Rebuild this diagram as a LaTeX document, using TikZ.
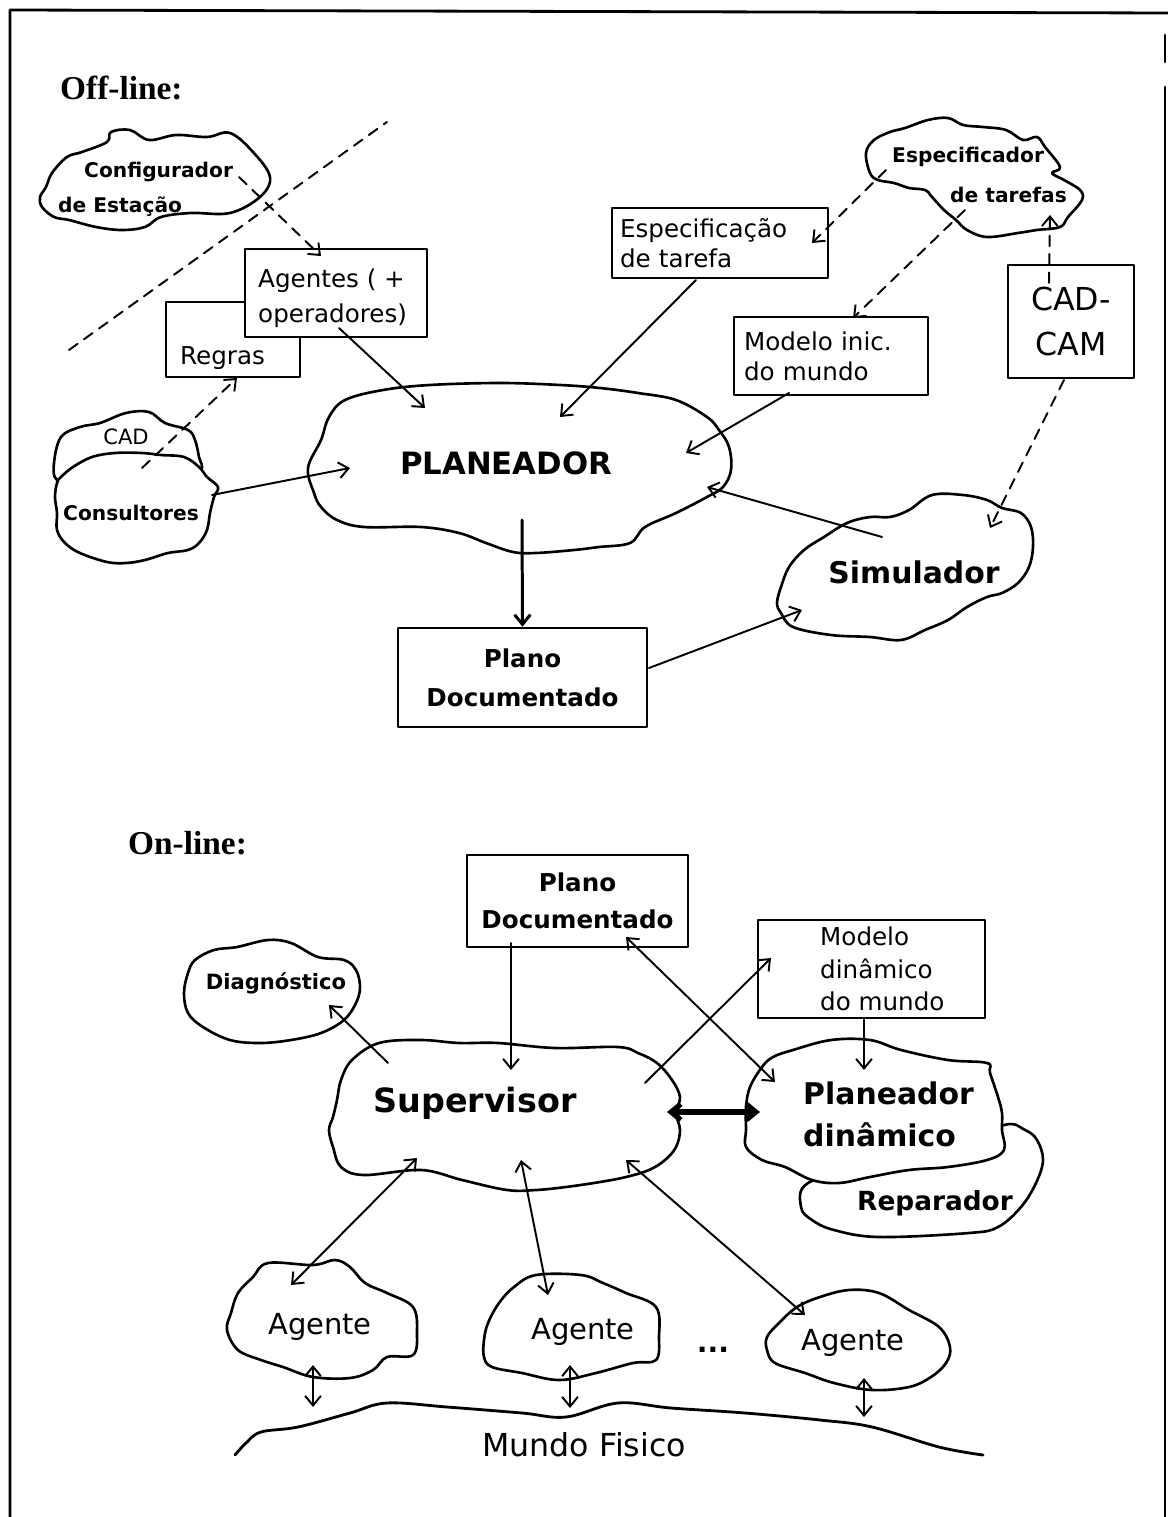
\documentclass[tikz,border=0pt]{standalone}
\usepackage{fontspec}
\usepackage{tikz}
\usetikzlibrary{arrows.meta}
\newfontfamily\dejavu{DejaVu Sans}
\newfontfamily\libserif{Liberation Serif}

\begin{document}
\begin{tikzpicture}[
  x=0.02cm,
  y=-0.02cm,
  line cap=round,
  line join=round,
  every node/.style={font=\dejavu},
  blob/.style={draw,fill=white,line width=1.5pt},
  box/.style={draw,fill=white,line width=1.5pt,inner sep=0pt},
  boxtxt/.style={font=\dejavu\fontsize{14}{17}\selectfont},
  small/.style={font=\dejavu\bfseries\fontsize{11.5}{14}\selectfont},
  big/.style={font=\dejavu\bfseries\fontsize{#1}{24}\selectfont},
  title/.style={font=\libserif\bfseries\fontsize{19}{22}\selectfont,anchor=west},
  arr/.style={line width=1.1pt,-{Straight Barb[length=5.5pt,width=9pt]}},
  darr/.style={arr,dash pattern=on 6pt off 4.5pt},
  both/.style={line width=1.1pt,{Straight Barb[length=5.5pt,width=9pt]}-{Straight Barb[length=5.5pt,width=9pt]}}
  ]
  \useasboundingbox (0,0) rectangle (1168,1517);

  % frame
  \draw[line width=1.6pt] (10,1517) -- (10,10) -- (1168,13);
  \draw[line width=1.6pt] (1165,87) -- (1165,1517);
  \draw[line width=1.6pt] (1165,35) -- (1165,62);

  % off-line
  \node[title] (off) at (54,88) {Off-line:};

  \draw[blob] plot[smooth cycle,tension=0.6] coordinates {(46,187) (52,173) (67,157) (82,152) (107,142) (111,132) (130,130) (149,140) (176,135) (207,137) (230,133) (253,152) (270,177) (260,197) (230,213) (191,213) (161,217) (145,227) (122,230) (96,227) (69,220) (54,217) (42,207) (40,197)};
  \node[small,anchor=west] (cfgA) at (78,172) {Configurador};
  \node[small,anchor=west] (cfgB) at (52,207) {de Estação};

  \draw[blob] plot[smooth cycle,tension=0.6] coordinates {(866,153) (874,140) (890,132) (905,128) (928,120) (948,118) (963,125) (983,127) (1006,130) (1023,140) (1037,137) (1045,147) (1060,167) (1052,173) (1064,180) (1080,190) (1082,200) (1068,217) (1060,227) (1037,230) (1018,233) (987,237) (967,230) (956,220) (944,210) (932,197) (925,190) (909,188) (894,183) (878,180) (870,173)};
  \node[small,anchor=west] (espA) at (886,157) {Especificador};
  \node[small,anchor=west] (espB) at (944,195) {de tarefas};

  \draw[blob] plot[smooth cycle,tension=0.6] coordinates {(57,480) (54,463) (61,437) (80,427) (100,423) (126,413) (149,412) (165,423) (188,430) (195,440) (199,457) (201,470) (180,480) (130,485) (80,485)};
  \node[font=\dejavu\fontsize{12}{14}\selectfont] (cad) at (126,437) {CAD};
  \draw[blob] plot[smooth cycle,tension=0.6] coordinates {(57,483) (55,497) (57,513) (57,530) (65,543) (80,553) (107,562) (126,563) (145,560) (168,553) (188,550) (199,543) (207,530) (210,513) (214,497) (218,487) (207,477) (199,467) (184,457) (161,455) (142,453) (115,453) (92,457) (73,467) (61,477)};
  \node[small] (cons) at (131,513) {Consultores};

  \draw[blob] plot[smooth cycle,tension=0.6] coordinates {(345,400) (383,390) (430,385) (500,383) (560,385) (600,388) (638,393) (676,400) (707,417) (719,430) (729,447) (731,470) (723,487) (707,497) (676,513) (645,527) (630,543) (599,547) (574,550) (536,553) (513,552) (486,543) (459,533) (421,527) (364,527) (337,520) (321,507) (314,493) (308,468) (321,440) (329,417)};
  \node[big=17.5] (plan) at (506,463) {PLANEADOR};

  \draw[blob] plot[smooth cycle,tension=0.6] coordinates {(781,587) (777,603) (781,613) (793,627) (831,635) (870,637) (901,640) (925,630) (948,620) (967,607) (987,597) (1002,593) (1018,583) (1029,567) (1033,547) (1031,527) (1021,513) (1002,508) (987,500) (963,495) (932,495) (909,510) (890,517) (870,517) (847,523) (824,537) (804,550) (789,567)};
  \node[big=17] (sim) at (914,572) {Simulador};

  \node[box,minimum width=2.68cm,minimum height=1.5cm] (regras) at (233,339.5) {};
  \node[boxtxt,anchor=west] (regrasT) at (174,358) {Regras};
  \node[box,minimum width=3.64cm,minimum height=1.76cm] (agentes) at (336,293) {};
  \node[boxtxt,anchor=west,align=left] (agentesT) at (252,298) {Agentes ( +\\[3pt]operadores)};
  \node[box,boxtxt,minimum width=4.32cm,minimum height=1.4cm,inner xsep=0.16cm,text width=4cm,align=left] (espc) at (720,243) {Especificação\\de tarefa};
  \node[box,boxtxt,minimum width=3.88cm,minimum height=1.56cm,inner xsep=0.2cm,text width=3.48cm,align=left] (modelo) at (831,356) {Modelo inic.\\do mundo};
  \node[box,font=\dejavu\fontsize{18}{25.6}\selectfont,minimum width=2.52cm,minimum height=2.26cm,align=center] (cadcam) at (1071,321.5) {CAD-\\CAM};
  \node[box,big=14,minimum width=4.98cm,minimum height=1.98cm,align=center] (plano) at (522.5,677.5) {Plano\\[-2pt]Documentado};

  \coordinate (diagA) at (69,350);
  \coordinate (diagB) at (387,122);
  \draw[line width=1.1pt,dash pattern=on 6pt off 4.5pt] (diagA) -- (diagB);

  \coordinate (cfgOut) at (239,177);
  \coordinate (agIn) at (321,256);
  \coordinate (agOut) at (339,328);
  \coordinate (plIn1) at (425,408);
  \coordinate (consUp) at (142,468);
  \coordinate (regIn) at (237,378);
  \coordinate (consOut) at (212,495);
  \coordinate (plIn2) at (350,468);
  \coordinate (espOut1) at (886,170);
  \coordinate (espcIn) at (812,243);
  \coordinate (espOut2) at (965,210);
  \coordinate (modIn) at (853,318);
  \coordinate (camUp) at (1049,283);
  \coordinate (espIn) at (1050,215);
  \coordinate (espcOut) at (696,280);
  \coordinate (plIn3) at (560,417);
  \coordinate (modOut) at (789,393);
  \coordinate (plIn4) at (686,453);
  \coordinate (camDown) at (1064,380);
  \coordinate (simIn) at (990,528);
  \coordinate (simOut) at (882,537);
  \coordinate (plIn5) at (707,487);
  \coordinate (plOut) at (522,520);
  \coordinate (planoOut) at (649,668);
  \coordinate (simIn2) at (802,610);

  \draw[darr] (cfgOut) -- (agIn);
  \draw[arr] (agOut) -- (plIn1);
  \draw[darr] (consUp) -- (regIn);
  \draw[arr] (consOut) -- (plIn2);
  \draw[darr] (espOut1) -- (espcIn);
  \draw[darr] (espOut2) -- (modIn);
  \draw[darr] (camUp) -- (espIn);
  \draw[arr] (espcOut) -- (plIn3);
  \draw[arr] (modOut) -- (plIn4);
  \draw[darr] (camDown) -- (simIn);
  \draw[arr] (simOut) -- (plIn5);
  \draw[arr,line width=1.7pt] (plOut) -- (plano.north);
  \draw[arr] (planoOut) -- (simIn2);

  % on-line
  \node[title] (on) at (122,843) {On-line:};

  \draw[blob] plot[smooth cycle,tension=0.6] coordinates {(184,993) (188,1013) (203,1027) (230,1040) (260,1043) (291,1040) (321,1033) (344,1020) (356,1003) (360,987) (356,970) (344,960) (318,957) (291,943) (268,940) (237,947) (214,950) (195,960) (188,973)};
  \node[font=\dejavu\bfseries\fontsize{12}{14}\selectfont] (diag) at (276,983) {Diagnóstico};

  \draw[blob] plot[smooth cycle,tension=0.6] coordinates {(379,1043) (421,1040) (459,1043) (498,1043) (555,1048) (618,1047) (638,1053) (657,1063) (672,1080) (680,1097) (676,1113) (680,1130) (676,1147) (665,1160) (649,1170) (626,1177) (600,1182) (566,1187) (536,1190) (507,1190) (462,1180) (421,1170) (364,1175) (341,1167) (333,1147) (329,1130) (333,1117) (337,1100) (341,1080) (352,1060)};
  \node[big=19] (sup) at (475,1103) {Supervisor};

  \draw[blob] plot[smooth cycle,tension=0.6] coordinates {(808,1183) (801,1207) (812,1220) (834,1230) (879,1237) (969,1233) (998,1227) (1021,1207) (1036,1183) (1043,1160) (1037,1140) (1025,1130) (1004,1125) (950,1150) (870,1165)};
  \node[big=15] (rep) at (935,1203) {Reparador};
  \draw[blob] plot[smooth cycle,tension=0.6] coordinates {(762,1067) (750,1087) (746,1107) (746,1130) (746,1147) (762,1160) (785,1167) (812,1180) (839,1183) (870,1177) (909,1170) (948,1167) (987,1160) (1004,1150) (1002,1130) (1002,1113) (998,1097) (990,1073) (987,1063) (948,1060) (901,1050) (870,1040) (831,1040) (793,1050) (773,1057)};
  \node[big=17,anchor=west,align=left] (pdin) at (797,1114) {Planeador\\dinâmico};

  \node[box,big=14,minimum width=4.42cm,minimum height=1.84cm,align=center] (plano2) at (577.5,901) {Plano\\[-3pt]Documentado};
  \node[box,minimum width=4.54cm,minimum height=1.96cm] (mdin) at (871.5,969) {};
  \node[font=\dejavu\fontsize{14}{18.5}\selectfont,anchor=west,align=left] (mdinT) at (814,969) {Modelo\\dinâmico\\do mundo};

  \draw[blob] plot[smooth cycle,tension=0.6] coordinates {(227,1330) (238,1350) (261,1360) (283,1367) (313,1377) (350,1378) (373,1370) (387,1357) (413,1355) (417,1333) (413,1307) (387,1293) (365,1283) (350,1267) (335,1260) (313,1265) (268,1263) (253,1277) (238,1293) (231,1313)};
  \draw[blob] plot[smooth cycle,tension=0.6] coordinates {(484,1357) (492,1367) (522,1373) (559,1380) (596,1373) (633,1363) (656,1360) (659,1337) (656,1307) (626,1293) (603,1283) (581,1275) (536,1275) (514,1287) (499,1303) (488,1323) (484,1340)};
  \draw[blob] plot[smooth cycle,tension=0.6] coordinates {(767,1350) (775,1363) (805,1373) (834,1383) (872,1390) (909,1387) (931,1377) (946,1363) (950,1347) (939,1327) (909,1310) (879,1293) (849,1290) (820,1297) (797,1307) (779,1323) (767,1337)};
  \node[font=\dejavu\fontsize{16.5}{20}\selectfont] (agente1) at (320,1327) {Agente};
  \node[font=\dejavu\fontsize{16.5}{20}\selectfont] (agente2) at (583,1332) {Agente};
  \node[font=\dejavu\fontsize{16.5}{20}\selectfont] (agente3) at (853,1343) {Agente};
  \node[big=16] (dots) at (713,1350) {...};

  \draw[line width=1.6pt] plot[smooth,tension=0.6] coordinates {(235,1455) (246,1443) (261,1432) (298,1427) (350,1413) (387,1403) (447,1407) (522,1413) (566,1417) (618,1403) (671,1408) (745,1413) (820,1420) (872,1427) (939,1447) (983,1455)};
  \node[font=\dejavu\fontsize{18}{20}\selectfont] (mundo) at (584,1445) {Mundo Fisico};

  \coordinate (plano2Out) at (511,943);
  \coordinate (supIn) at (511,1070);
  \coordinate (supOut1) at (388,1063);
  \coordinate (diagIn) at (329,1005);
  \coordinate (plano2B) at (626,937);
  \coordinate (pdIn) at (775,1082);
  \coordinate (supOut2) at (645,1083);
  \coordinate (mdIn) at (771,958);
  \coordinate (mdOut) at (864,1018);
  \coordinate (pdIn2) at (864,1070);
  \coordinate (supR) at (667,1112);
  \coordinate (pdL) at (760,1112);
  \coordinate (sup1) at (417,1158);
  \coordinate (sup2) at (521,1160);
  \coordinate (sup3) at (626,1160);
  \coordinate (ag1) at (291,1285);
  \coordinate (ag2) at (548,1295);
  \coordinate (ag3) at (805,1315);
  \coordinate (agd1) at (313,1365);
  \coordinate (agd2) at (570,1365);
  \coordinate (agd3) at (864,1378);
  \coordinate (mf1) at (313,1407);
  \coordinate (mf2) at (570,1408);
  \coordinate (mf3) at (864,1417);

  \draw[arr] (plano2Out) -- (supIn);
  \draw[arr] (supOut1) -- (diagIn);
  \draw[both] (plano2B) -- (pdIn);
  \draw[arr] (supOut2) -- (mdIn);
  \draw[arr] (mdOut) -- (pdIn2);
  \draw[both,line width=3pt] (supR) -- (pdL);
  \foreach \i in {1,2,3}
  \draw[both] (sup\i) -- (ag\i);
  \foreach \i in {1,2,3}
  \draw[both] (agd\i) -- (mf\i);
\end{tikzpicture}
\end{document}
